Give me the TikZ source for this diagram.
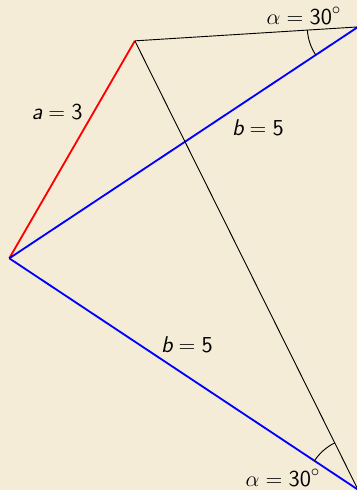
\documentclass[tikz,border=0pt]{standalone}
\usetikzlibrary{angles}
\definecolor{bg}{RGB}{245,236,216}
\begin{document}
\begin{tikzpicture}[x=1.6cm,y=1.6cm,
  side/.style={line width=1pt},
  thinline/.style={line width=0.5pt,black},
  lbl/.style={font=\fontsize{12.4}{15}\selectfont\sffamily,inner sep=0pt}]
\fill[bg] (-0.111,-2.768) rectangle (4.154,3.086);
\clip (-0.111,-2.768) rectangle (4.154,3.086);
\coordinate (A) at (0,0);
\coordinate (C) at (1.5,2.598);
\coordinate (B1) at (4.1663,2.7644);
\coordinate (B2) at (4.1663,-2.7644);
\draw[side,red] (A) -- (C);
\draw[side,blue] (A) -- (B1);
\draw[side,blue] (A) -- (B2);
\draw[thinline] (C) -- (B1);
\draw[thinline] (C) -- (B2);
\pic[draw,thinline,angle radius=0.97cm] {angle=C--B1--A};
\pic[draw,thinline,angle radius=1.0cm] {angle=C--B2--A};
\node[lbl] (la) at (0.570,1.748) {$\textit{a} = \textsf{3}$};
\node[lbl] (lb1) at (2.971,1.557) {$\textit{b} = \textsf{5}$};
\node[lbl] (lb2) at (2.123,-1.036) {$\textit{b} = \textsf{5}$};
\node[lbl] (lal1) at (3.521,2.895) {$\alpha = \textsf{30}^\circ$};
\node[lbl] (lal2) at (3.270,-2.625) {$\alpha = \textsf{30}^\circ$};
\end{tikzpicture}
\end{document}
